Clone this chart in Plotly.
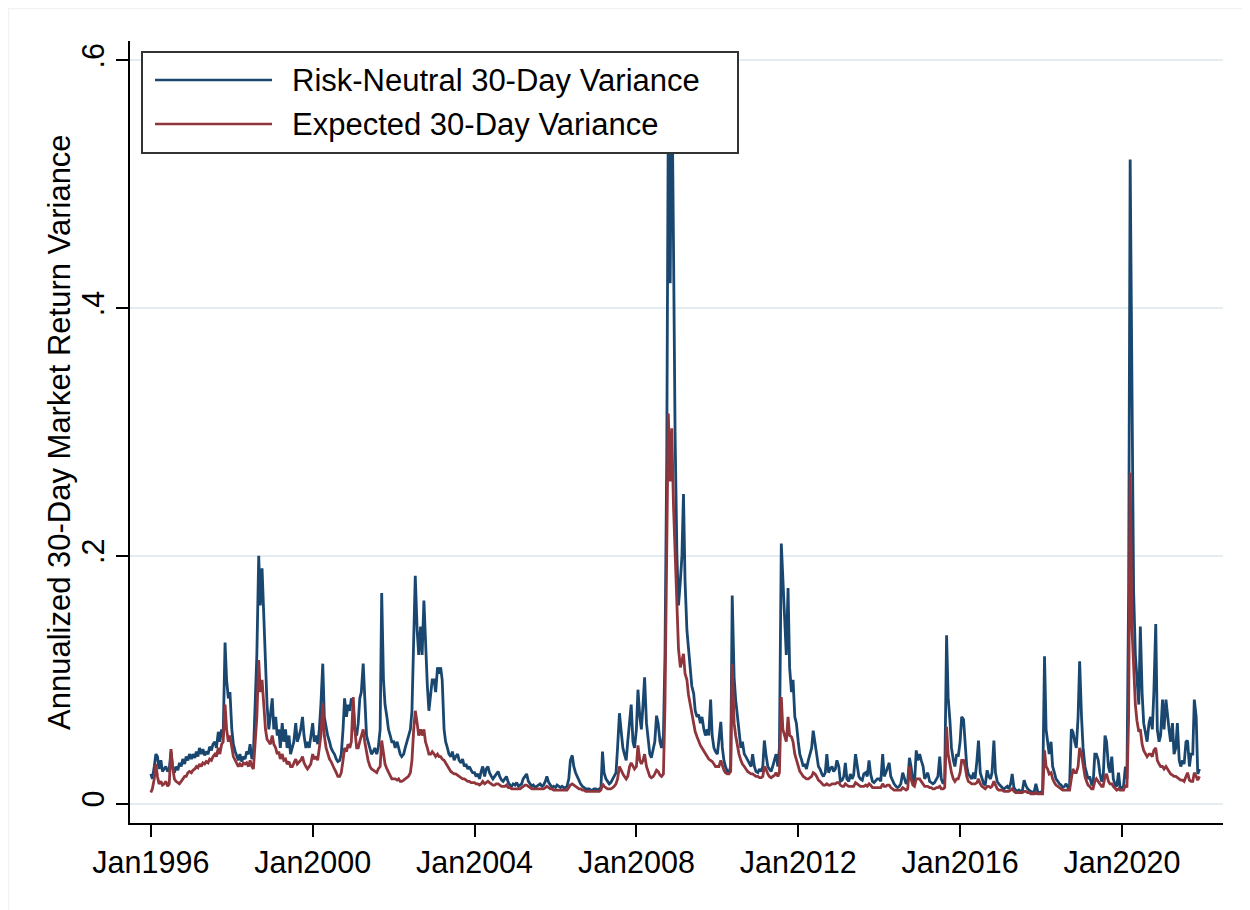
import pandas as pd
import plotly.graph_objects as go

# ---------------- data (semi-monthly readings, 1st and 15th of each month) ----------------
start_date = "1996-01-01"

rn_var = [
    # 1996
    0.024, 0.020, 0.030, 0.040, 0.038, 0.028, 0.035, 0.026, 0.028, 0.030, 0.026, 0.028,
    0.042, 0.030, 0.025, 0.030, 0.027, 0.033, 0.030, 0.036, 0.032, 0.038, 0.035, 0.040,
    # 1997
    0.036, 0.040, 0.037, 0.042, 0.038, 0.045, 0.040, 0.044, 0.039, 0.042, 0.040, 0.046,
    0.043, 0.048, 0.050, 0.045, 0.058, 0.050, 0.060, 0.055, 0.130, 0.100, 0.085, 0.090,
    # 1998
    0.060, 0.048, 0.042, 0.038, 0.035, 0.040, 0.034, 0.038, 0.036, 0.042, 0.040, 0.048,
    0.036, 0.040, 0.080, 0.120, 0.200, 0.160, 0.190, 0.150, 0.110, 0.080, 0.060, 0.070,
    # 1999
    0.085, 0.060, 0.070, 0.055, 0.060, 0.045, 0.065, 0.050, 0.060, 0.045, 0.055, 0.040,
    0.045, 0.050, 0.065, 0.050, 0.055, 0.060, 0.070, 0.055, 0.045, 0.050, 0.045, 0.055,
    # 2000
    0.065, 0.050, 0.055, 0.048, 0.060, 0.080, 0.113, 0.070, 0.060, 0.055, 0.050, 0.045,
    0.042, 0.040, 0.036, 0.034, 0.035, 0.040, 0.060, 0.085, 0.070, 0.080, 0.075, 0.085,
    # 2001
    0.080, 0.060, 0.055, 0.065, 0.085, 0.090, 0.113, 0.080, 0.055, 0.050, 0.045, 0.040,
    0.042, 0.045, 0.040, 0.045, 0.060, 0.170, 0.100, 0.080, 0.070, 0.060, 0.055, 0.050,
    # 2002
    0.050, 0.045, 0.050, 0.045, 0.040, 0.038, 0.040, 0.045, 0.050, 0.055, 0.060, 0.075,
    0.130, 0.184, 0.140, 0.120, 0.143, 0.120, 0.164, 0.130, 0.095, 0.075, 0.090, 0.100,
    # 2003
    0.100, 0.090, 0.110, 0.105, 0.110, 0.100, 0.060, 0.050, 0.045, 0.040, 0.038, 0.042,
    0.035, 0.038, 0.040, 0.035, 0.033, 0.036, 0.030, 0.032, 0.028, 0.030, 0.027, 0.025,
    # 2004
    0.025, 0.022, 0.024, 0.020, 0.026, 0.030, 0.022, 0.028, 0.030, 0.025, 0.022, 0.020,
    0.022, 0.024, 0.026, 0.022, 0.019, 0.018, 0.020, 0.022, 0.017, 0.015, 0.014, 0.016,
    # 2005
    0.015, 0.017, 0.014, 0.015, 0.016, 0.020, 0.022, 0.024, 0.018, 0.016, 0.014, 0.015,
    0.013, 0.014, 0.015, 0.016, 0.014, 0.015, 0.018, 0.022, 0.017, 0.015, 0.013, 0.014,
    # 2006
    0.013, 0.015, 0.014, 0.013, 0.014, 0.013, 0.013, 0.014, 0.020, 0.035, 0.039, 0.030,
    0.025, 0.022, 0.018, 0.016, 0.014, 0.013, 0.012, 0.012, 0.012, 0.011, 0.011, 0.012,
    # 2007
    0.012, 0.011, 0.012, 0.013, 0.042, 0.025, 0.020, 0.018, 0.016, 0.017, 0.020, 0.022,
    0.025, 0.045, 0.073, 0.060, 0.045, 0.040, 0.035, 0.050, 0.065, 0.080, 0.050, 0.045,
    # 2008
    0.060, 0.092, 0.070, 0.060, 0.080, 0.102, 0.065, 0.050, 0.040, 0.037, 0.045, 0.050,
    0.071, 0.065, 0.050, 0.045, 0.055, 0.120, 0.280, 0.560, 0.420, 0.600, 0.450, 0.300,
    # 2009
    0.200, 0.160, 0.180, 0.200, 0.250, 0.180, 0.140, 0.125, 0.110, 0.095, 0.089, 0.075,
    0.070, 0.072, 0.065, 0.070, 0.060, 0.055, 0.060, 0.055, 0.084, 0.055, 0.045, 0.042,
    # 2010
    0.040, 0.050, 0.066, 0.045, 0.035, 0.030, 0.026, 0.025, 0.030, 0.168, 0.102, 0.084,
    0.070, 0.060, 0.045, 0.050, 0.040, 0.038, 0.035, 0.032, 0.030, 0.040, 0.030, 0.026,
    # 2011
    0.025, 0.028, 0.026, 0.030, 0.051, 0.040, 0.030, 0.028, 0.026, 0.030, 0.035, 0.040,
    0.030, 0.045, 0.210, 0.178, 0.150, 0.120, 0.174, 0.110, 0.090, 0.100, 0.070, 0.065,
    # 2012
    0.050, 0.040, 0.035, 0.030, 0.032, 0.028, 0.035, 0.040, 0.045, 0.059, 0.050, 0.040,
    0.030, 0.028, 0.024, 0.022, 0.025, 0.040, 0.025, 0.028, 0.030, 0.026, 0.028, 0.035,
    # 2013
    0.030, 0.018, 0.019, 0.022, 0.033, 0.020, 0.018, 0.024, 0.020, 0.023, 0.040, 0.030,
    0.022, 0.020, 0.019, 0.024, 0.025, 0.022, 0.035, 0.024, 0.018, 0.017, 0.019, 0.020,
    # 2014
    0.020, 0.018, 0.040, 0.022, 0.025, 0.028, 0.033, 0.022, 0.018, 0.016, 0.014, 0.013,
    0.014, 0.016, 0.025, 0.020, 0.016, 0.018, 0.037, 0.030, 0.018, 0.016, 0.043, 0.035,
    # 2015
    0.040, 0.035, 0.030, 0.020, 0.022, 0.025, 0.018, 0.017, 0.016, 0.017, 0.020, 0.022,
    0.038, 0.020, 0.016, 0.020, 0.136, 0.086, 0.067, 0.045, 0.035, 0.030, 0.040, 0.038,
    # 2016
    0.050, 0.070, 0.068, 0.050, 0.030, 0.024, 0.022, 0.020, 0.025, 0.020, 0.035, 0.051,
    0.025, 0.020, 0.016, 0.015, 0.027, 0.022, 0.020, 0.025, 0.051, 0.025, 0.018, 0.016,
    # 2017
    0.014, 0.013, 0.012, 0.013, 0.014, 0.012, 0.016, 0.024, 0.013, 0.011, 0.010, 0.011,
    0.010, 0.010, 0.019, 0.015, 0.012, 0.011, 0.010, 0.009, 0.010, 0.016, 0.010, 0.009,
    # 2018
    0.009, 0.011, 0.119, 0.060, 0.050, 0.040, 0.050, 0.030, 0.025, 0.020, 0.018, 0.016,
    0.015, 0.013, 0.014, 0.016, 0.013, 0.014, 0.060, 0.058, 0.050, 0.045, 0.070, 0.115,
    # 2019
    0.070, 0.045, 0.030, 0.025, 0.020, 0.022, 0.016, 0.015, 0.040, 0.040, 0.035, 0.025,
    0.018, 0.020, 0.055, 0.050, 0.030, 0.025, 0.038, 0.020, 0.015, 0.014, 0.025, 0.013,
    # 2020
    0.013, 0.014, 0.030, 0.020, 0.170, 0.520, 0.300, 0.172, 0.120, 0.100, 0.080, 0.143,
    0.089, 0.065, 0.055, 0.050, 0.065, 0.070, 0.060, 0.090, 0.145, 0.060, 0.050, 0.055,
    # 2021
    0.084, 0.060, 0.084, 0.070, 0.060, 0.050, 0.065, 0.040, 0.045, 0.065, 0.035, 0.030,
    0.035, 0.032, 0.050, 0.051, 0.030, 0.040, 0.040, 0.084, 0.070, 0.024, 0.028,
]

exp_var = [
    # 1996
    0.009, 0.012, 0.020, 0.032, 0.022, 0.016, 0.018, 0.015, 0.016, 0.018, 0.014, 0.016,
    0.044, 0.030, 0.020, 0.018, 0.017, 0.016, 0.018, 0.020, 0.022, 0.022, 0.025, 0.026,
    # 1997
    0.025, 0.027, 0.028, 0.030, 0.029, 0.032, 0.030, 0.033, 0.032, 0.034, 0.033, 0.036,
    0.035, 0.038, 0.040, 0.038, 0.045, 0.040, 0.048, 0.050, 0.080, 0.060, 0.050, 0.055,
    # 1998
    0.045, 0.038, 0.035, 0.032, 0.030, 0.032, 0.030, 0.033, 0.032, 0.033, 0.030, 0.035,
    0.030, 0.028, 0.055, 0.070, 0.116, 0.090, 0.100, 0.080, 0.060, 0.052, 0.050, 0.048,
    # 1999
    0.055, 0.048, 0.045, 0.040, 0.042, 0.036, 0.040, 0.035, 0.036, 0.032, 0.034, 0.030,
    0.030, 0.033, 0.036, 0.032, 0.034, 0.035, 0.038, 0.033, 0.030, 0.028, 0.030, 0.032,
    # 2000
    0.040, 0.036, 0.038, 0.035, 0.045, 0.055, 0.081, 0.055, 0.045, 0.040, 0.036, 0.034,
    0.030, 0.028, 0.025, 0.022, 0.022, 0.025, 0.035, 0.045, 0.042, 0.048, 0.045, 0.050,
    # 2001
    0.086, 0.060, 0.045, 0.045, 0.050, 0.055, 0.060, 0.050, 0.040, 0.035, 0.030, 0.028,
    0.027, 0.026, 0.025, 0.028, 0.030, 0.051, 0.040, 0.032, 0.028, 0.025, 0.022, 0.020,
    # 2002
    0.020, 0.020, 0.019, 0.020, 0.018, 0.018, 0.019, 0.020, 0.021, 0.022, 0.025, 0.035,
    0.060, 0.075, 0.065, 0.055, 0.060, 0.055, 0.060, 0.050, 0.045, 0.040, 0.040, 0.042,
    # 2003
    0.040, 0.038, 0.040, 0.038, 0.038, 0.036, 0.035, 0.033, 0.030, 0.028, 0.026, 0.025,
    0.024, 0.024, 0.023, 0.022, 0.021, 0.020, 0.020, 0.019, 0.018, 0.018, 0.017, 0.017,
    # 2004
    0.017, 0.016, 0.016, 0.015, 0.016, 0.018, 0.016, 0.017, 0.018, 0.017, 0.016, 0.015,
    0.015, 0.016, 0.016, 0.015, 0.014, 0.014, 0.014, 0.015, 0.013, 0.013, 0.012, 0.012,
    # 2005
    0.012, 0.012, 0.012, 0.012, 0.013, 0.014, 0.015, 0.015, 0.014, 0.013, 0.012, 0.012,
    0.012, 0.012, 0.012, 0.012, 0.012, 0.012, 0.013, 0.014, 0.013, 0.012, 0.012, 0.011,
    # 2006
    0.011, 0.011, 0.011, 0.011, 0.011, 0.011, 0.011, 0.011, 0.013, 0.015, 0.016, 0.015,
    0.014, 0.013, 0.012, 0.012, 0.011, 0.011, 0.010, 0.010, 0.010, 0.010, 0.010, 0.010,
    # 2007
    0.010, 0.010, 0.010, 0.011, 0.016, 0.014, 0.013, 0.012, 0.012, 0.012, 0.013, 0.014,
    0.016, 0.020, 0.030, 0.027, 0.024, 0.022, 0.020, 0.022, 0.030, 0.033, 0.030, 0.028,
    # 2008
    0.030, 0.047, 0.035, 0.032, 0.035, 0.040, 0.030, 0.026, 0.022, 0.021, 0.022, 0.024,
    0.027, 0.026, 0.023, 0.022, 0.024, 0.080, 0.200, 0.315, 0.260, 0.303, 0.240, 0.200,
    # 2009
    0.150, 0.125, 0.110, 0.115, 0.121, 0.105, 0.100, 0.088, 0.080, 0.072, 0.065, 0.058,
    0.054, 0.050, 0.047, 0.045, 0.042, 0.040, 0.038, 0.036, 0.035, 0.034, 0.032, 0.030,
    # 2010
    0.030, 0.030, 0.035, 0.030, 0.027, 0.025, 0.024, 0.024, 0.026, 0.113, 0.065, 0.055,
    0.045, 0.040, 0.035, 0.032, 0.030, 0.028, 0.026, 0.025, 0.024, 0.024, 0.023, 0.022,
    # 2011
    0.022, 0.021, 0.021, 0.022, 0.030, 0.028, 0.024, 0.022, 0.021, 0.022, 0.023, 0.025,
    0.022, 0.025, 0.086, 0.060, 0.055, 0.050, 0.070, 0.055, 0.054, 0.050, 0.040, 0.036,
    # 2012
    0.030, 0.026, 0.024, 0.022, 0.021, 0.020, 0.020, 0.021, 0.022, 0.025, 0.024, 0.022,
    0.019, 0.018, 0.016, 0.015, 0.015, 0.016, 0.015, 0.015, 0.016, 0.016, 0.016, 0.017,
    # 2013
    0.017, 0.015, 0.014, 0.014, 0.016, 0.015, 0.014, 0.014, 0.014, 0.014, 0.017, 0.016,
    0.015, 0.014, 0.014, 0.014, 0.015, 0.014, 0.016, 0.015, 0.013, 0.013, 0.013, 0.013,
    # 2014
    0.013, 0.013, 0.016, 0.014, 0.014, 0.015, 0.015, 0.013, 0.012, 0.011, 0.011, 0.011,
    0.011, 0.011, 0.013, 0.012, 0.011, 0.012, 0.030, 0.020, 0.015, 0.014, 0.020, 0.020,
    # 2015
    0.020, 0.018, 0.016, 0.014, 0.014, 0.014, 0.013, 0.013, 0.012, 0.012, 0.013, 0.013,
    0.014, 0.012, 0.012, 0.013, 0.062, 0.040, 0.032, 0.025, 0.020, 0.018, 0.020, 0.020,
    # 2016
    0.025, 0.035, 0.035, 0.030, 0.022, 0.018, 0.017, 0.016, 0.016, 0.016, 0.017, 0.020,
    0.016, 0.014, 0.013, 0.012, 0.014, 0.014, 0.013, 0.014, 0.018, 0.015, 0.012, 0.011,
    # 2017
    0.011, 0.011, 0.010, 0.010, 0.010, 0.010, 0.011, 0.012, 0.010, 0.009, 0.009, 0.009,
    0.009, 0.009, 0.010, 0.010, 0.009, 0.009, 0.008, 0.008, 0.008, 0.009, 0.008, 0.008,
    # 2018
    0.008, 0.008, 0.043, 0.030, 0.028, 0.024, 0.025, 0.020, 0.017, 0.015, 0.014, 0.013,
    0.012, 0.011, 0.011, 0.011, 0.011, 0.011, 0.020, 0.028, 0.025, 0.025, 0.030, 0.045,
    # 2019
    0.040, 0.030, 0.022, 0.018, 0.015, 0.014, 0.012, 0.012, 0.018, 0.020, 0.018, 0.016,
    0.014, 0.014, 0.022, 0.024, 0.018, 0.016, 0.016, 0.014, 0.012, 0.011, 0.012, 0.011,
    # 2020
    0.011, 0.011, 0.015, 0.013, 0.070, 0.267, 0.140, 0.105, 0.080, 0.067, 0.058, 0.060,
    0.048, 0.043, 0.040, 0.038, 0.040, 0.040, 0.038, 0.043, 0.045, 0.035, 0.032, 0.030,
    # 2021
    0.030, 0.028, 0.030, 0.028, 0.026, 0.024, 0.023, 0.022, 0.022, 0.021, 0.020, 0.019,
    0.019, 0.018, 0.022, 0.025, 0.019, 0.018, 0.018, 0.025, 0.022, 0.019, 0.022,
]

series_names = ["Risk-Neutral 30-Day Variance", "Expected 30-Day Variance"]
series_colors = ["#1a476f", "#90353b"]

tick_dates = ["1996-01-01", "2000-01-01", "2004-01-01", "2008-01-01",
              "2012-01-01", "2016-01-01", "2020-01-01"]
tick_labels = ["Jan1996", "Jan2000", "Jan2004", "Jan2008", "Jan2012", "Jan2016", "Jan2020"]
y_ticks = [0, 0.2, 0.4, 0.6]
y_tick_labels = ["0", ".2", ".4", ".6"]
y_title = "Annualized 30-Day Market Return Variance"

dates = pd.date_range(start_date, periods=len(rn_var), freq="SMS")

# ---------------- figure ----------------
# the page body adds an 8px offset, so the figure is 8px smaller and all
# pixel targets below are in figure coordinates (page coordinate - 8)
W, H = 1242, 902
PL, PR, PT, PB = 122, 1215, 33, 815
FONT = "Liberation Sans, Arial, Helvetica, sans-serif"


def px(x):
    return (x - PL) / (PR - PL)


def py(y):
    return (PB - y) / (PB - PT)


fig = go.Figure()
for vals, name, col in zip([rn_var, exp_var], series_names, series_colors):
    fig.add_trace(go.Scatter(x=dates, y=vals, mode="lines", name=name,
                             line=dict(color=col, width=2.8), showlegend=False))

fig.update_layout(
    width=W, height=H,
    margin=dict(l=PL, r=W - PR, t=PT, b=H - PB, autoexpand=False),
    paper_bgcolor="white", plot_bgcolor="white",
    font=dict(family=FONT, size=31, color="black"),
)

fig.update_xaxes(
    type="date",
    range=["1995-06-27", "2022-07-01"],
    tickvals=tick_dates, ticktext=tick_labels,
    ticks="outside", ticklen=12, tickwidth=1.5, tickcolor="black",
    showline=True, linecolor="black", linewidth=1.5,
    showgrid=False, zeroline=False,
    tickfont=dict(size=30.5),
)
fig.update_yaxes(
    range=[-0.0156, 0.6156],
    tickvals=y_ticks, ticktext=y_tick_labels, tickangle=-90,
    ticks="outside", ticklen=12, tickwidth=1.5, tickcolor="black",
    showline=True, linecolor="black", linewidth=1.5,
    showgrid=True, gridcolor="#e5edf0", gridwidth=1.5, zeroline=False,
    tickfont=dict(size=30.5),
)

# y-axis title placed as rotated text
fig.add_annotation(xref="paper", yref="paper", x=px(51), y=py(424),
                   xanchor="center", yanchor="middle", showarrow=False,
                   textangle=-90, text=y_title, font=dict(size=31, color="black"))

shapes = [
    # faint outer frame of the graph region (top and left edges)
    dict(type="line", xref="paper", yref="paper", layer="below",
         x0=px(0), x1=px(W), y0=py(0.5), y1=py(0.5),
         line=dict(color="#f0f2f3", width=1.5)),
    dict(type="line", xref="paper", yref="paper", layer="below",
         x0=px(0.5), x1=px(0.5), y0=py(0), y1=py(H),
         line=dict(color="#f0f2f3", width=1.5)),
    # legend box (Stata style, drawn manually)
    dict(type="rect", xref="paper", yref="paper", layer="above",
         x0=px(134), x1=px(730), y0=py(145), y1=py(44),
         fillcolor="white", line=dict(color="#333333", width=2)),
]
legend_rows = [72, 116]
for row_y, col, name in zip(legend_rows, series_colors, series_names):
    shapes.append(dict(type="line", xref="paper", yref="paper", layer="above",
                       x0=px(147), x1=px(264), y0=py(row_y), y1=py(row_y),
                       line=dict(color=col, width=2.5)))
    fig.add_annotation(xref="paper", yref="paper", x=px(282), y=py(row_y),
                       xanchor="left", yanchor="middle", showarrow=False,
                       text=name, font=dict(size=31, color="black"))
fig.update_layout(shapes=shapes)

fig.write_html("out.html")
